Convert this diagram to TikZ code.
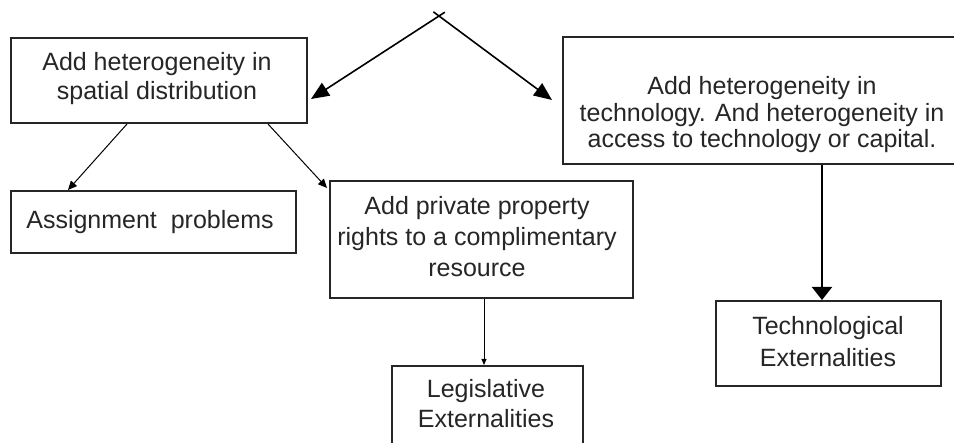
\documentclass[tikz,border=0pt]{standalone}
\usepackage{fontspec}
\setmainfont{Liberation Sans}
\usetikzlibrary{arrows.meta,calc}
\definecolor{ink}{HTML}{262626}
\begin{document}
\begin{tikzpicture}[x=1pt,y=-1pt,
  box/.style={draw=ink, line width=2pt, inner sep=0pt},
  txt/.style={text=ink, align=center, inner sep=0pt, anchor=base, font=\fontsize{25}{30}\selectfont},
  bigarrow/.style={draw=black, line width=1.6pt, -{Triangle[length=18pt,width=15pt]}},
  midarrow/.style={draw=black, line width=1pt, -{Triangle[length=9pt,width=8pt]}},
  smallarrow/.style={draw=black, line width=0.9pt, -{Triangle[length=6pt,width=5pt]}},
  downarrow/.style={draw=black, line width=1.8pt, -{Triangle[length=13pt,width=20pt]}}]
\useasboundingbox (0,0) rectangle (954,443);
\fill[white] (0,0) rectangle (954,443);
% boxes
\node[box, minimum width=296pt, minimum height=85pt] (A) at (159,80.5) {};
\node[box, minimum width=285pt, minimum height=62pt] (B) at (153.5,222) {};
\node[box, minimum width=303pt, minimum height=117pt] (C) at (481.5,239.5) {};
\node[box, minimum width=398pt, minimum height=127pt] (D) at (762,100.5) {};
\node[box, minimum width=225pt, minimum height=85pt] (E) at (828.5,343.5) {};
\node[box, minimum width=191pt, minimum height=94pt] (F) at (487.5,413) {};
% texts (base anchor = baseline of the last line)
\node[txt, font=\fontsize{25}{29}\selectfont] (At) at (157,100) {Add heterogeneity in\\spatial distribution};
\node[txt] (Bt) at (150,229) {Assignment\ \ problems};
\node[txt, font=\fontsize{25}{31}\selectfont] (Ct) at (477,277) {Add private property\\rights to a complimentary\\resource};
\node[txt, font=\fontsize{25}{26.5}\selectfont] (Dt) at (762,148) {Add heterogeneity in\\technology. And heterogeneity in\\access to technology or capital.};
\node[txt, font=\fontsize{25}{32}\selectfont] (Et) at (828,367) {Technological\\Externalities};
\node[txt, font=\fontsize{25}{30}\selectfont] (Ft) at (486,428) {Legislative\\Externalities};
% connectors
\coordinate (apex) at (439,16);
\coordinate (tipA) at ($(A.east)+(3,18.5)$);
\coordinate (tipD) at ($(D.west)+(-10,-0.5)$);
\draw[bigarrow] ($(apex)!-7pt!(tipA)$) -- (tipA);
\draw[bigarrow] ($(apex)!-7pt!(tipD)$) -- (tipD);
\draw[midarrow] ($(A.south west)+(117,0)$) -- ($(B.north west)+(58,0)$);
\draw[midarrow] ($(A.south west)+(258,0)$) -- ($(C.north west)+(-2,8)$);
\coordinate (cf) at ($(C.south west)+(155,0)$);
\draw[smallarrow] (cf) -- (cf |- F.north);
\coordinate (de) at ($(E.north)+(-6.5,0)$);
\draw[downarrow] (de |- D.south) -- (de);
\end{tikzpicture}
\end{document}
